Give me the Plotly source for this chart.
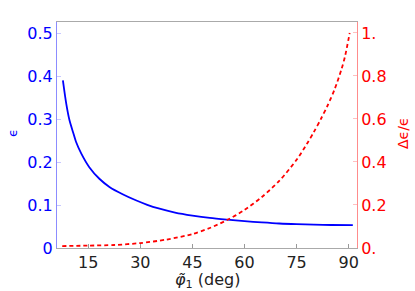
import plotly.graph_objects as go

# Data
phi_eps = [7.7, 8.66, 9.6, 10.6, 11.5, 13.0, 15.3, 18.2, 21.1, 24.9, 28.7, 32, 35, 40,
           45, 50, 55, 60, 65, 70, 75, 80, 85, 91.2]
eps = [0.390, 0.336, 0.297, 0.270, 0.2465, 0.2195, 0.188, 0.161, 0.142, 0.125, 0.111,
       0.1005, 0.0925, 0.0825, 0.0755, 0.070, 0.066, 0.0625, 0.0595, 0.057, 0.0555, 0.0545,
       0.0535, 0.053]

phi_rel = [7.5, 15, 22.5, 30, 37.5, 45, 50, 55, 60, 65, 70, 75, 78, 80, 82, 84,
           86, 88, 89, 90.3]
rel = [0.009, 0.011, 0.014, 0.023, 0.039, 0.065, 0.093, 0.13, 0.177, 0.237, 0.312, 0.41,
       0.485, 0.54, 0.60, 0.665, 0.74, 0.835, 0.895, 1.0]

x_ticks = [15, 30, 45, 60, 75, 90]
y1_ticks = [0, 0.1, 0.2, 0.3, 0.4, 0.5]
y1_labels = ["0", "0.1", "0.2", "0.3", "0.4", "0.5"]
y2_ticks = [0, 0.2, 0.4, 0.6, 0.8, 1.0]
y2_labels = ["0.", "0.2", "0.4", "0.6", "0.8", "1."]

FONT = "DejaVu Sans"
BLUE = "#0000ff"
RED = "#ff0000"

fig = go.Figure()
fig.add_trace(go.Scatter(x=phi_eps, y=eps, mode="lines",
                         line=dict(color=BLUE, width=1.8, shape="spline", smoothing=0.8),
                         yaxis="y", showlegend=False))
fig.add_trace(go.Scatter(x=phi_rel, y=rel, mode="lines",
                         line=dict(color=RED, width=1.8, shape="spline", smoothing=0.8, dash="4px,3px"),
                         yaxis="y2", showlegend=False))

L, R, T, B = 57, 58, 22, 43
W, H = 415, 291
pw = W - L - R
ph = H - T - B


def px(x):
    return (x - L) / pw


def py(y):
    return (H - B - y) / ph


fig.update_layout(
    width=W, height=H,
    margin=dict(l=L, r=R, t=T, b=B),
    paper_bgcolor="white", plot_bgcolor="white",
    font=dict(family=FONT, size=16),
    xaxis=dict(range=[6, 92.4], tickvals=x_ticks, ticks="inside", ticklen=4, tickcolor="#999999",
               showline=True, linecolor="#aaaaaa", linewidth=1, mirror=True, showgrid=False, zeroline=False,
               tickfont=dict(color="#222222", size=16, family=FONT)),
    yaxis=dict(range=[0, 0.5256], tickvals=y1_ticks, ticktext=y1_labels, ticks="inside", ticklen=4,
               tickcolor="#c8c8ff", showline=True, linecolor="#8c8cff", linewidth=1, showgrid=False,
               zeroline=False, tickfont=dict(color=BLUE, size=16, family=FONT)),
    yaxis2=dict(range=[0, 1.051], tickvals=y2_ticks, ticktext=y2_labels, ticks="inside", ticklen=4,
                tickcolor="#ffc0c0", showline=True, linecolor="#ff8c8c", linewidth=1, showgrid=False,
                zeroline=False, overlaying="y", side="right", tickfont=dict(color=RED, size=16, family=FONT)),
    annotations=[
        dict(text="ϵ", x=px(12), y=py(133), xref="paper", yref="paper", showarrow=False, textangle=-90,
             xanchor="center", yanchor="middle", font=dict(color=BLUE, size=13, family=FONT)),
        dict(text="Δϵ/ϵ", x=px(403), y=py(133), xref="paper", yref="paper", showarrow=False, textangle=-90,
             xanchor="center", yanchor="middle", font=dict(color=RED, size=14, family=FONT)),
        dict(text="<i>φ̃</i><sub>1</sub> (deg)", x=px(207), y=py(280), xref="paper", yref="paper",
             showarrow=False, xanchor="center", yanchor="middle",
             font=dict(color="#222222", size=16, family=FONT)),
    ],
)

fig.write_html("out.html",
               config={"displayModeBar": False},
               post_script="document.body.style.margin='0';document.body.style.padding='0';"
                           "document.body.style.overflow='hidden';")
